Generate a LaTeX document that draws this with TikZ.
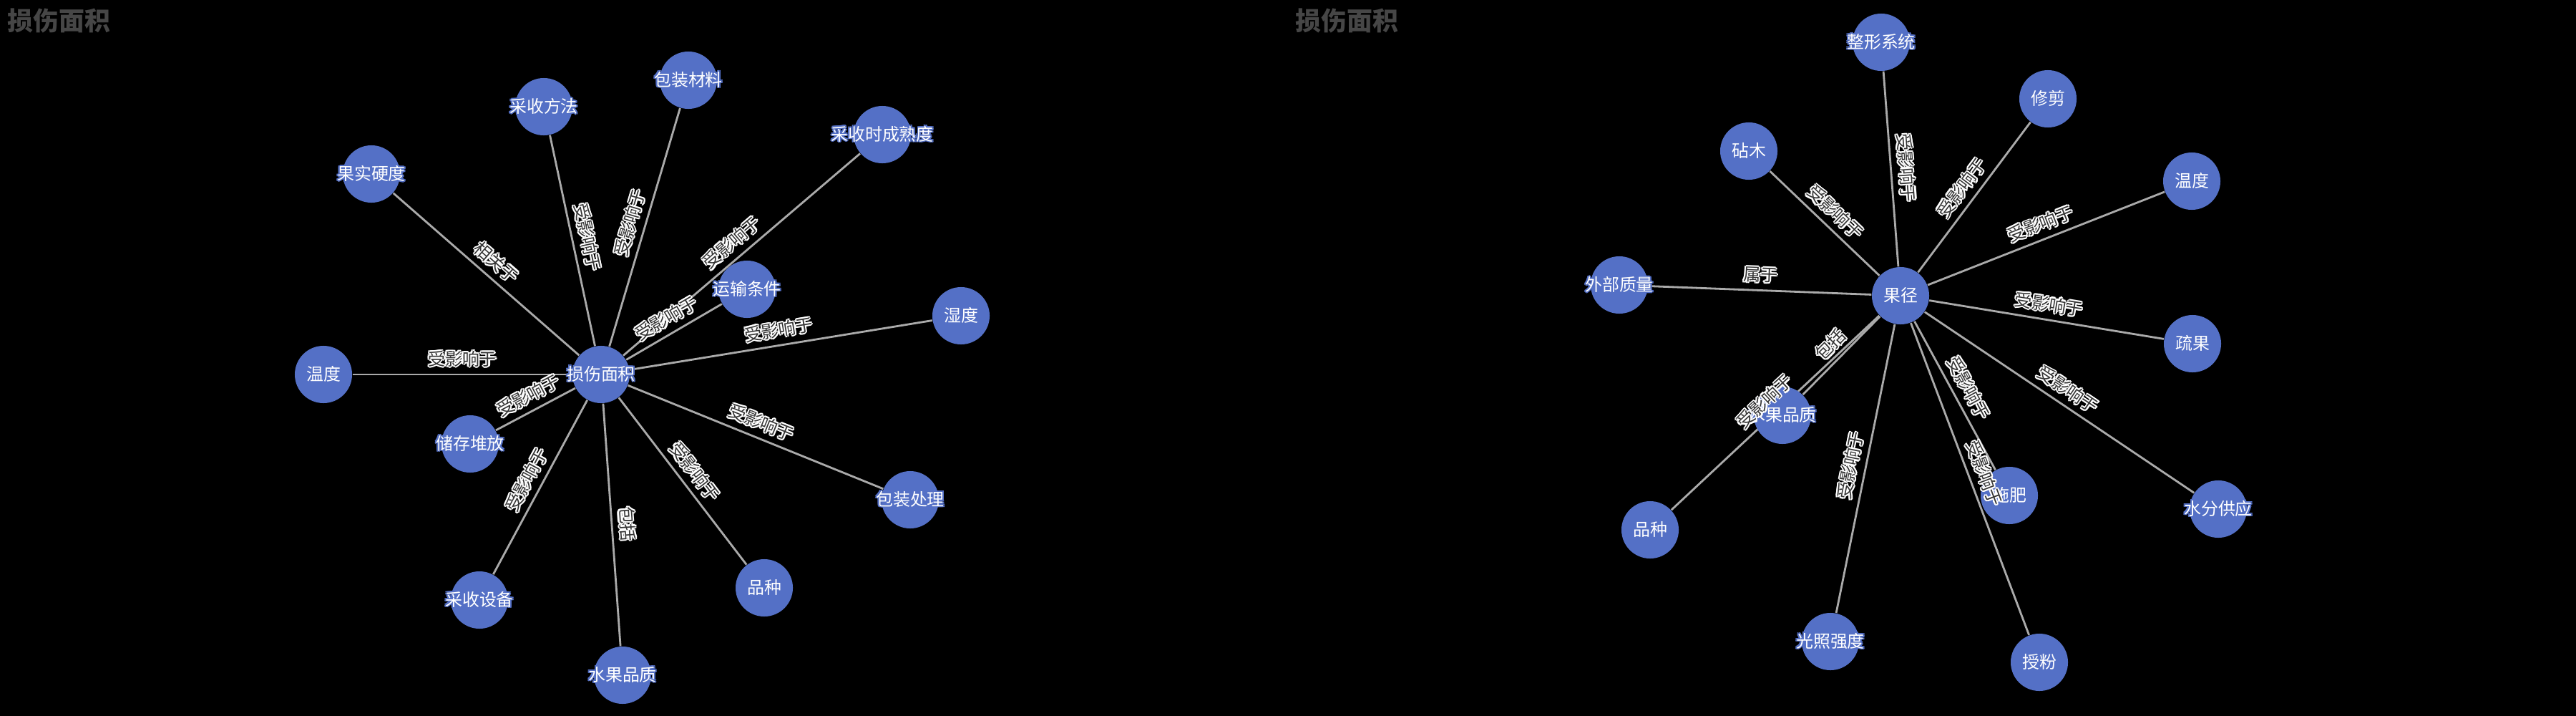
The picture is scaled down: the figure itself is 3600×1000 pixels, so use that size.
\documentclass[tikz,border=0pt]{standalone}
\usepackage{fontspec}
\setmainfont{Noto Sans CJK SC}
\usepackage[copies]{contour}
\usepackage{tikz}
\definecolor{nodeblue}{HTML}{5470C6}
\definecolor{linkgray}{HTML}{AAAAAA}
\definecolor{titlegray}{HTML}{464646}
\definecolor{labelgray}{HTML}{333333}
\pgfdeclarelayer{back}
\pgfsetlayers{back,main}
\contournumber{8}
\newcommand\factor[4]{\node[factor] (#1) at (#2,#3) {\makebox[0pt]{\contourlength{0.5pt}\contour{nodeblue}{#4}}};}
\newcommand\relation[3]{\begin{pgfonlayer}{back}\draw[link] (#1) -- (#2);\end{pgfonlayer}\path (#1) -- node[linklabel] {\contourlength{0.6pt}\contour{white}{#3}} (#2);}

\begin{document}
\begin{tikzpicture}[x=0.01cm,y=-0.01cm,
  factor/.style={circle, fill=nodeblue, minimum size=0.8cm, inner sep=0pt, text=white, font=\fontsize{6.8pt}{8pt}\selectfont},
  link/.style={draw=linkgray, line width=0.8pt},
  linklabel/.style={midway, sloped, above=0.08cm, inner sep=0pt, text=labelgray, font=\fontsize{6.8pt}{8pt}\selectfont},
  charttitle/.style={anchor=west, inner sep=0pt, text=titlegray, font=\fontsize{10.2pt}{12pt}\selectfont\bfseries}]
\useasboundingbox (0,0) rectangle (3600,1000);
\begin{pgfonlayer}{back}
\fill[black] (0,0) rectangle (3600,1000);
\end{pgfonlayer}

% left chart
\node[charttitle] (titleA) at (10,29) {损伤面积};
\factor{area}{840}{523}{损伤面积}
\factor{firmness}{519}{243}{果实硬度}
\factor{pickmethod}{760}{149}{采收方法}
\factor{packmat}{962}{112}{包装材料}
\factor{ripeness}{1233}{188}{采收时成熟度}
\factor{transport}{1044}{404}{运输条件}
\factor{humidity}{1343}{441}{湿度}
\factor{tempA}{452}{523}{温度}
\factor{stacking}{657}{620}{储存堆放}
\factor{packing}{1272}{698}{包装处理}
\factor{varietyA}{1068}{821}{品种}
\factor{pickequip}{670}{838}{采收设备}
\factor{qualityA}{870}{943}{水果品质}

\relation{firmness}{area}{相关于}
\relation{pickmethod}{area}{受影响于}
\relation{packmat}{area}{受影响于}
\relation{ripeness}{area}{受影响于}
\relation{transport}{area}{受影响于}
\relation{humidity}{area}{受影响于}
\relation{tempA}{area}{受影响于}
\relation{stacking}{area}{受影响于}
\relation{packing}{area}{受影响于}
\relation{varietyA}{area}{受影响于}
\relation{pickequip}{area}{受影响于}
\relation{qualityA}{area}{包括}

% right chart
\node[charttitle] (titleB) at (1810,29) {损伤面积};
\factor{diam}{2656}{413}{果径}
\factor{training}{2629}{59}{整形系统}
\factor{pruning}{2862}{138}{修剪}
\factor{rootstock}{2444}{211}{砧木}
\factor{tempB}{3063}{253}{温度}
\factor{external}{2263}{398}{外部质量}
\factor{thinning}{3064}{480}{疏果}
\factor{qualityB}{2491}{580}{水果品质}
\factor{fertil}{2808}{692}{施肥}
\factor{water}{3100}{711}{水分供应}
\factor{varietyB}{2306}{740}{品种}
\factor{light}{2558}{896}{光照强度}
\factor{pollin}{2850}{925}{授粉}

\relation{training}{diam}{受影响于}
\relation{pruning}{diam}{受影响于}
\relation{rootstock}{diam}{受影响于}
\relation{tempB}{diam}{受影响于}
\relation{external}{diam}{属于}
\relation{thinning}{diam}{受影响于}
\relation{qualityB}{diam}{包括}
\relation{varietyB}{diam}{受影响于}
\relation{fertil}{diam}{受影响于}
\relation{water}{diam}{受影响于}
\relation{light}{diam}{受影响于}
\relation{pollin}{diam}{受影响于}
\end{tikzpicture}
\end{document}
